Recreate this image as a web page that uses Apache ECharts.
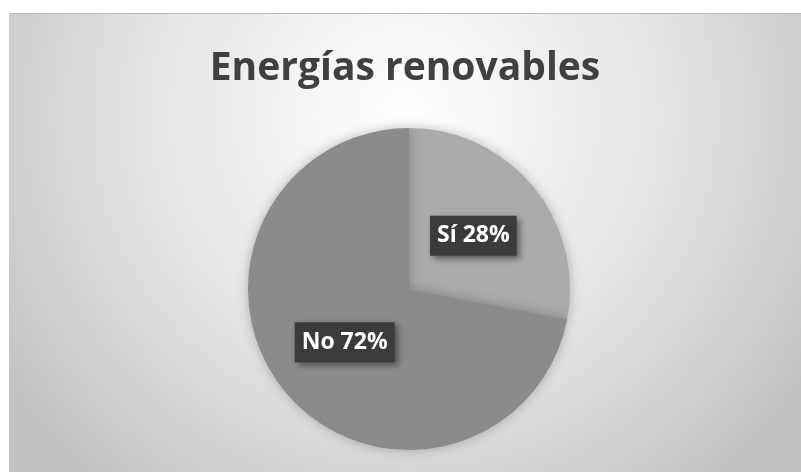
<!DOCTYPE html>
<html>
<head>
<meta charset="utf-8">
<script src="https://cdn.jsdelivr.net/npm/echarts@6/dist/echarts.min.js"></script>
<style>
  html, body { margin: 0; padding: 0; background: #ffffff; }
  #chart { position: absolute; left: 9px; top: 13px; width: 792px; height: 459px; border-top: 1px solid #b8b8b8; box-sizing: border-box; }
</style>
</head>
<body>
<div id="chart"></div>
<script>
// datos
const categories = ['Sí', 'No'];
const values = [28, 72];
const sliceColors = ['#ababab', '#8b8b8b'];

const chart = echarts.init(document.getElementById('chart'));

const option = {
  animation: false,
  backgroundColor: {
    type: 'radial',
    x: 0.5, y: 0.22, r: 1.05,
    colorStops: [
      { offset: 0, color: '#ffffff' },
      { offset: 0.55, color: '#e4e4e4' },
      { offset: 1, color: '#c2c2c2' }
    ]
  },
  title: {
    text: 'Energías renovables',
    left: 'center',
    top: 30,
    textStyle: {
      fontFamily: 'Open Sans',
      fontWeight: 'bold',
      fontSize: 39,
      color: '#404040'
    }
  },
  series: [
    {
      type: 'pie',
      center: [400, 275],
      radius: 161,
      startAngle: 90,
      clockwise: true,
      silent: true,
      itemStyle: {
        shadowBlur: 12,
        shadowColor: 'rgba(0,0,0,0.25)'
      },
      label: {
        position: 'inside',
        formatter: '{b} {c}%',
        fontFamily: 'Open Sans',
        fontWeight: 'bold',
        fontSize: 23,
        lineHeight: 24,
        color: '#ffffff',
        backgroundColor: '#3b3b3b',
        padding: [8, 7, 8, 7],
        shadowColor: 'rgba(0,0,0,0.45)',
        shadowBlur: 6,
        shadowOffsetX: 3,
        shadowOffsetY: 3
      },
      labelLine: { show: false },
      data: categories.map((name, i) => ({
        name: name,
        value: values[i],
        itemStyle: { color: sliceColors[i] }
      }))
    }
  ]
};

chart.setOption(option);
</script>
</body>
</html>
